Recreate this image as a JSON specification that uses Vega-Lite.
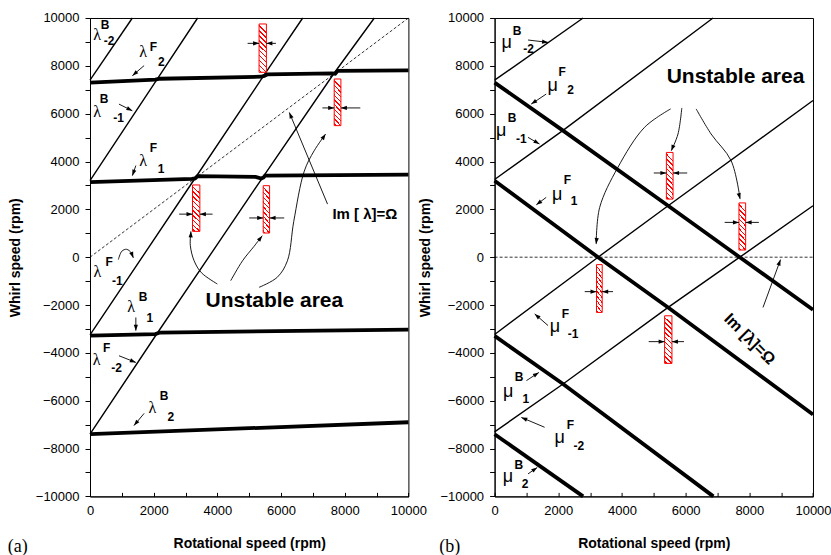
{
"$schema":"https://vega.github.io/schema/vega-lite/v6.json",
"padding":{"left":7,"top":11,"right":5,"bottom":5},
"background":"white",
"bounds":"flush",
"spacing":85.6,
"config":{"view":{"stroke":"black","strokeWidth":1},"axis":{"labelFont":"Liberation Sans","labelFontSize":13,"labelColor":"black","titleFont":"Liberation Sans","titleFontSize":14,"titleFontWeight":"bold","titleColor":"black","domainColor":"black","tickColor":"black","grid":false,"labelOverlap":false,"labelBound":false,"labelFlush":false},"text":{"font":"Liberation Sans"}},
"datasets":{
"lines":[
{"p":"a","id":"a1","k":"mode","o":0,"x":0,"y":7300},{"p":"a","id":"a1","k":"mode","o":1,"x":2050,"y":7420},{"p":"a","id":"a1","k":"mode","o":2,"x":2200,"y":7460},{"p":"a","id":"a1","k":"mode","o":3,"x":5380,"y":7545},{"p":"a","id":"a1","k":"mode","o":4,"x":5470,"y":7580},{"p":"a","id":"a1","k":"mode","o":5,"x":5560,"y":7640},{"p":"a","id":"a1","k":"mode","o":6,"x":7600,"y":7685},{"p":"a","id":"a1","k":"mode","o":7,"x":7700,"y":7670},{"p":"a","id":"a1","k":"mode","o":8,"x":7780,"y":7790},{"p":"a","id":"a1","k":"mode","o":9,"x":10000,"y":7810},
{"p":"a","id":"a2","k":"mode","o":0,"x":0,"y":3140},{"p":"a","id":"a2","k":"mode","o":1,"x":3200,"y":3270},{"p":"a","id":"a2","k":"mode","o":2,"x":3300,"y":3290},{"p":"a","id":"a2","k":"mode","o":3,"x":3380,"y":3390},{"p":"a","id":"a2","k":"mode","o":4,"x":5200,"y":3360},{"p":"a","id":"a2","k":"mode","o":5,"x":5380,"y":3290},{"p":"a","id":"a2","k":"mode","o":6,"x":5450,"y":3330},{"p":"a","id":"a2","k":"mode","o":7,"x":5500,"y":3410},{"p":"a","id":"a2","k":"mode","o":8,"x":10000,"y":3450},
{"p":"a","id":"a3","k":"mode","o":0,"x":0,"y":-3280},{"p":"a","id":"a3","k":"mode","o":1,"x":2050,"y":-3215},{"p":"a","id":"a3","k":"mode","o":2,"x":2200,"y":-3150},{"p":"a","id":"a3","k":"mode","o":3,"x":10000,"y":-3030},
{"p":"a","id":"a4","k":"mode","o":0,"x":0,"y":-7400},{"p":"a","id":"a4","k":"mode","o":1,"x":10000,"y":-6900},
{"p":"a","id":"a5","k":"shifted","o":0,"x":0,"y":7400},{"p":"a","id":"a5","k":"shifted","o":1,"x":1330,"y":10000},
{"p":"a","id":"a6","k":"shifted","o":0,"x":0,"y":3200},{"p":"a","id":"a6","k":"shifted","o":1,"x":2100,"y":7420},{"p":"a","id":"a6","k":"shifted","o":2,"x":3380,"y":10000},
{"p":"a","id":"a7","k":"shifted","o":0,"x":0,"y":-3250},{"p":"a","id":"a7","k":"shifted","o":1,"x":3300,"y":3300},{"p":"a","id":"a7","k":"shifted","o":2,"x":5450,"y":7580},{"p":"a","id":"a7","k":"shifted","o":3,"x":6680,"y":10000},
{"p":"a","id":"a8","k":"shifted","o":0,"x":0,"y":-7400},{"p":"a","id":"a8","k":"shifted","o":1,"x":2100,"y":-3200},{"p":"a","id":"a8","k":"shifted","o":2,"x":5420,"y":3330},{"p":"a","id":"a8","k":"shifted","o":3,"x":7670,"y":7700},{"p":"a","id":"a8","k":"shifted","o":4,"x":8930,"y":10000},
{"p":"a","id":"a9","k":"ref","o":0,"x":0,"y":0},{"p":"a","id":"a9","k":"ref","o":1,"x":10000,"y":10000},
{"p":"b","id":"b1","k":"mode","o":0,"x":0,"y":7300},{"p":"b","id":"b1","k":"mode","o":1,"x":2150,"y":5290},{"p":"b","id":"b1","k":"mode","o":2,"x":5450,"y":2150},{"p":"b","id":"b1","k":"mode","o":3,"x":7700,"y":0},{"p":"b","id":"b1","k":"mode","o":4,"x":10000,"y":-2200},
{"p":"b","id":"b2","k":"mode","o":0,"x":0,"y":3200},{"p":"b","id":"b2","k":"mode","o":1,"x":3250,"y":0},{"p":"b","id":"b2","k":"mode","o":2,"x":5450,"y":-2100},{"p":"b","id":"b2","k":"mode","o":3,"x":10000,"y":-6580},
{"p":"b","id":"b3","k":"mode","o":0,"x":0,"y":-3290},{"p":"b","id":"b3","k":"mode","o":1,"x":2150,"y":-5300},{"p":"b","id":"b3","k":"mode","o":2,"x":6870,"y":-10000},
{"p":"b","id":"b4","k":"mode","o":0,"x":0,"y":-7400},{"p":"b","id":"b4","k":"mode","o":1,"x":2780,"y":-10000},
{"p":"b","id":"b5","k":"shifted","o":0,"x":0,"y":7400},{"p":"b","id":"b5","k":"shifted","o":1,"x":2780,"y":10000},
{"p":"b","id":"b6","k":"shifted","o":0,"x":0,"y":3250},{"p":"b","id":"b6","k":"shifted","o":1,"x":2150,"y":5300},{"p":"b","id":"b6","k":"shifted","o":2,"x":6860,"y":10000},
{"p":"b","id":"b7","k":"shifted","o":0,"x":0,"y":-3230},{"p":"b","id":"b7","k":"shifted","o":1,"x":3250,"y":0},{"p":"b","id":"b7","k":"shifted","o":2,"x":5450,"y":2150},{"p":"b","id":"b7","k":"shifted","o":3,"x":10000,"y":6550},
{"p":"b","id":"b8","k":"shifted","o":0,"x":0,"y":-7300},{"p":"b","id":"b8","k":"shifted","o":1,"x":2150,"y":-5300},{"p":"b","id":"b8","k":"shifted","o":2,"x":5450,"y":-2100},{"p":"b","id":"b8","k":"shifted","o":3,"x":7700,"y":0},{"p":"b","id":"b8","k":"shifted","o":4,"x":10000,"y":2150},
{"p":"b","id":"b9","k":"ref","o":0,"x":0,"y":0},{"p":"b","id":"b9","k":"ref","o":1,"x":10000,"y":0}
],
"rects":[
{"p":"a","x":5310,"x2":5540,"y":7730,"y2":9750},{"p":"a","x":7670,"x2":7880,"y":5500,"y2":7450},{"p":"a","x":3220,"x2":3450,"y":1080,"y2":3020},{"p":"a","x":5440,"x2":5640,"y":1010,"y2":2990},
{"p":"b","x":3200,"x2":3380,"y":-2310,"y2":-310},{"p":"b","x":5395,"x2":5605,"y":2430,"y2":4380},{"p":"b","x":7675,"x2":7885,"y":300,"y2":2270},{"p":"b","x":5340,"x2":5570,"y":-4440,"y2":-2450}
],
"arrows":[
{"p":"a","id":"h1","o":0,"x":4950,"y":8940},{"p":"a","id":"h1","o":1,"x":5310,"y":8940},
{"p":"a","id":"h2","o":0,"x":5840,"y":8940},{"p":"a","id":"h2","o":1,"x":5540,"y":8940},
{"p":"a","id":"h3","o":0,"x":7300,"y":6240},{"p":"a","id":"h3","o":1,"x":7670,"y":6240},
{"p":"a","id":"h4","o":0,"x":8490,"y":6240},{"p":"a","id":"h4","o":1,"x":7880,"y":6240},
{"p":"a","id":"h5","o":0,"x":2800,"y":1800},{"p":"a","id":"h5","o":1,"x":3220,"y":1800},
{"p":"a","id":"h6","o":0,"x":3850,"y":1800},{"p":"a","id":"h6","o":1,"x":3450,"y":1800},
{"p":"a","id":"h7","o":0,"x":5000,"y":1640},{"p":"a","id":"h7","o":1,"x":5440,"y":1640},
{"p":"a","id":"h8","o":0,"x":6100,"y":1640},{"p":"a","id":"h8","o":1,"x":5640,"y":1640},
{"p":"a","id":"l1","o":0,"x":1700,"y":8010},{"p":"a","id":"l1","o":1,"x":1330,"y":7590},
{"p":"a","id":"l2","o":0,"x":910,"y":6400},{"p":"a","id":"l2","o":1,"x":1330,"y":6120},
{"p":"a","id":"l3","o":0,"x":1440,"y":3830},{"p":"a","id":"l3","o":1,"x":1330,"y":3410},
{"p":"a","id":"l4","o":0,"x":1440,"y":-2520},{"p":"a","id":"l4","o":1,"x":1440,"y":-3070},
{"p":"a","id":"l5","o":0,"x":910,"y":-4120},{"p":"a","id":"l5","o":1,"x":1440,"y":-4400},
{"p":"a","id":"l6","o":0,"x":1700,"y":-6530},{"p":"a","id":"l6","o":1,"x":1380,"y":-7040},
{"p":"a","id":"l7","o":0,"x":890,"y":-100},{"p":"a","id":"l7","o":1,"x":1000,"y":250},{"p":"a","id":"l7","o":2,"x":1150,"y":330},{"p":"a","id":"l7","o":3,"x":1300,"y":180},{"p":"a","id":"l7","o":4,"x":1360,"y":-30},
{"p":"a","id":"l8","o":0,"x":7460,"y":2220},{"p":"a","id":"l8","o":1,"x":6260,"y":6050},
{"p":"a","id":"c1","o":0,"x":4000,"y":-1120},{"p":"a","id":"c1","o":1,"x":3500,"y":-650},{"p":"a","id":"c1","o":2,"x":3270,"y":-150},{"p":"a","id":"c1","o":3,"x":3150,"y":500},{"p":"a","id":"c1","o":4,"x":3170,"y":1080},
{"p":"a","id":"c2","o":0,"x":4420,"y":-980},{"p":"a","id":"c2","o":1,"x":4790,"y":-150},{"p":"a","id":"c2","o":2,"x":5150,"y":450},{"p":"a","id":"c2","o":3,"x":5410,"y":900},
{"p":"a","id":"c3","o":0,"x":5310,"y":-1260},{"p":"a","id":"c3","o":1,"x":5880,"y":-840},{"p":"a","id":"c3","o":2,"x":6200,"y":-150},{"p":"a","id":"c3","o":3,"x":6400,"y":1500},{"p":"a","id":"c3","o":4,"x":6730,"y":3600},{"p":"a","id":"c3","o":5,"x":7040,"y":4450},{"p":"a","id":"c3","o":6,"x":7400,"y":5150},
{"p":"b","id":"h9","o":0,"x":2830,"y":-1440},{"p":"b","id":"h9","o":1,"x":3200,"y":-1440},
{"p":"b","id":"h10","o":0,"x":3720,"y":-1440},{"p":"b","id":"h10","o":1,"x":3380,"y":-1440},
{"p":"b","id":"h11","o":0,"x":5000,"y":3520},{"p":"b","id":"h11","o":1,"x":5395,"y":3520},
{"p":"b","id":"h12","o":0,"x":6050,"y":3520},{"p":"b","id":"h12","o":1,"x":5605,"y":3520},
{"p":"b","id":"h13","o":0,"x":7225,"y":1455},{"p":"b","id":"h13","o":1,"x":7675,"y":1455},
{"p":"b","id":"h14","o":0,"x":8300,"y":1455},{"p":"b","id":"h14","o":1,"x":7885,"y":1455},
{"p":"b","id":"h15","o":0,"x":4840,"y":-3530},{"p":"b","id":"h15","o":1,"x":5340,"y":-3530},
{"p":"b","id":"h16","o":0,"x":5950,"y":-3530},{"p":"b","id":"h16","o":1,"x":5570,"y":-3530},
{"p":"b","id":"m1","o":0,"x":1050,"y":9080},{"p":"b","id":"m1","o":1,"x":1680,"y":8980},
{"p":"b","id":"m2","o":0,"x":1620,"y":6820},{"p":"b","id":"m2","o":1,"x":1150,"y":6400},
{"p":"b","id":"m3","o":0,"x":1050,"y":5010},{"p":"b","id":"m3","o":1,"x":1410,"y":4730},
{"p":"b","id":"m4","o":0,"x":1620,"y":2500},{"p":"b","id":"m4","o":1,"x":1310,"y":2190},
{"p":"b","id":"m5","o":0,"x":1680,"y":-2860},{"p":"b","id":"m5","o":1,"x":1260,"y":-2370},
{"p":"b","id":"m6","o":0,"x":1000,"y":-5160},{"p":"b","id":"m6","o":1,"x":1390,"y":-4820},
{"p":"b","id":"m7","o":0,"x":1570,"y":-7110},{"p":"b","id":"m7","o":1,"x":840,"y":-6700},
{"p":"b","id":"m8","o":0,"x":1050,"y":-9060},{"p":"b","id":"m8","o":1,"x":1340,"y":-8790},
{"p":"b","id":"m9","o":0,"x":8430,"y":-2100},{"p":"b","id":"m9","o":1,"x":8980,"y":-100},
{"p":"b","id":"d1","o":0,"x":5530,"y":6200},{"p":"b","id":"d1","o":1,"x":4710,"y":5430},{"p":"b","id":"d1","o":2,"x":3870,"y":3750},{"p":"b","id":"d1","o":3,"x":3300,"y":2080},{"p":"b","id":"d1","o":4,"x":3190,"y":550},
{"p":"b","id":"d2","o":0,"x":5880,"y":6240},{"p":"b","id":"d2","o":1,"x":5760,"y":5150},{"p":"b","id":"d2","o":2,"x":5550,"y":4450},
{"p":"b","id":"d3","o":0,"x":6330,"y":6200},{"p":"b","id":"d3","o":1,"x":6800,"y":5150},{"p":"b","id":"d3","o":2,"x":7430,"y":4030},{"p":"b","id":"d3","o":3,"x":7710,"y":2430}
],
"labels":[
{"p":"a","r":"lam","t":"λ","x":226,"y":9290},{"p":"a","r":"sup","t":"B","x":470,"y":9690},{"p":"a","r":"sub","t":"-2","x":600,"y":9040},
{"p":"a","r":"lam","t":"λ","x":1670,"y":8560},{"p":"a","r":"sup","t":"F","x":1995,"y":8770},{"p":"a","r":"sub","t":"2","x":2240,"y":8140},
{"p":"a","r":"lam","t":"λ","x":226,"y":6090},{"p":"a","r":"sup","t":"B","x":440,"y":6610},{"p":"a","r":"sub","t":"-1","x":900,"y":5810},
{"p":"a","r":"lam","t":"λ","x":1670,"y":4030},{"p":"a","r":"sup","t":"F","x":1995,"y":4560},{"p":"a","r":"sub","t":"1","x":2230,"y":3690},
{"p":"a","r":"lam","t":"λ","x":232,"y":-635},{"p":"a","r":"sup","t":"F","x":598,"y":-180},{"p":"a","r":"sub","t":"-1","x":860,"y":-1016},
{"p":"a","r":"lam","t":"λ","x":1290,"y":-2080},{"p":"a","r":"sup","t":"B","x":1670,"y":-1644},{"p":"a","r":"sub","t":"1","x":1880,"y":-2550},
{"p":"a","r":"lam","t":"λ","x":205,"y":-4290},{"p":"a","r":"sup","t":"F","x":520,"y":-3800},{"p":"a","r":"sub","t":"-2","x":835,"y":-4640},
{"p":"a","r":"lam","t":"λ","x":1960,"y":-6310},{"p":"a","r":"sup","t":"B","x":2325,"y":-5820},{"p":"a","r":"sub","t":"2","x":2535,"y":-6660},
{"p":"a","r":"big","t":"Unstable area","x":5791,"y":-1819},
{"p":"a","r":"im","t":"Im [ λ]=Ω","x":8633,"y":1806},
{"p":"a","r":"tag","t":"(a)","x":-2585,"y":-12130},
{"p":"b","r":"mu","t":"μ","x":377,"y":8946},{"p":"b","r":"sup","t":"B","x":707,"y":9460},{"p":"b","r":"sub","t":"-2","x":1065,"y":8716},
{"p":"b","r":"mu","t":"μ","x":1822,"y":7170},{"p":"b","r":"sup","t":"F","x":2120,"y":7763},{"p":"b","r":"sub","t":"2","x":2384,"y":6995},
{"p":"b","r":"mu","t":"μ","x":210,"y":5290},{"p":"b","r":"sup","t":"B","x":550,"y":5811},{"p":"b","r":"sub","t":"-1","x":840,"y":4954},
{"p":"b","r":"mu","t":"μ","x":1963,"y":2605},{"p":"b","r":"sup","t":"F","x":2290,"y":3211},{"p":"b","r":"sub","t":"1","x":2497,"y":2370},
{"p":"b","r":"mu","t":"μ","x":1897,"y":-2934},{"p":"b","r":"sup","t":"F","x":2227,"y":-2375},{"p":"b","r":"sub","t":"-1","x":2462,"y":-3211},
{"p":"b","r":"mu","t":"μ","x":430,"y":-5652},{"p":"b","r":"sup","t":"B","x":770,"y":-5008},{"p":"b","r":"sub","t":"1","x":980,"y":-5928},
{"p":"b","r":"mu","t":"μ","x":2041,"y":-7567},{"p":"b","r":"sup","t":"F","x":2384,"y":-7032},{"p":"b","r":"sub","t":"-2","x":2645,"y":-7880},
{"p":"b","r":"mu","t":"μ","x":420,"y":-9205},{"p":"b","r":"sup","t":"B","x":760,"y":-8704},{"p":"b","r":"sub","t":"2","x":955,"y":-9482},
{"p":"b","r":"big","t":"Unstable area","x":7566,"y":7517},
{"p":"b","r":"imr","t":"Im [λ]=Ω","x":8010,"y":-3420},
{"p":"b","r":"tag","t":"(b)","x":-1740,"y":-12100}
]
},
"hconcat":[
{
"width":318.4,"height":478.4,
"encoding":{
"x":{"field":"x","type":"quantitative","scale":{"domain":[0,10000],"nice":false,"zero":false},"axis":{"title":"Rotational speed (rpm)","values":[0,1000,2000,3000,4000,5000,6000,7000,8000,9000,10000],"format":"d","labelExpr":"datum.value % 2000 === 0 ? datum.label : ''","tickSize":-4,"labelPadding":12,"titlePadding":19}},
"y":{"field":"y","type":"quantitative","scale":{"domain":[-10000,10000],"nice":false,"zero":false},"axis":{"title":"Whirl speed (rpm)","values":[-10000,-9000,-8000,-7000,-6000,-5000,-4000,-3000,-2000,-1000,0,1000,2000,3000,4000,5000,6000,7000,8000,9000,10000],"format":"d","labelExpr":"datum.value % 2000 === 0 ? datum.label : ''","tickSize":5,"labelPadding":6,"titlePadding":13}}
},
"layer":[
{"data":{"name":"lines"},"transform":[{"filter":"datum.p==='a' && datum.k==='ref'"}],"mark":{"type":"line","stroke":"black","strokeWidth":0.8,"strokeDash":[3,2]},"encoding":{"detail":{"field":"id"},"order":{"field":"o"}}},
{"data":{"name":"lines"},"transform":[{"filter":"datum.p==='a' && datum.k==='shifted'"}],"mark":{"type":"line","stroke":"black","strokeWidth":1.4},"encoding":{"detail":{"field":"id"},"order":{"field":"o"}}},
{"data":{"name":"lines"},"transform":[{"filter":"datum.p==='a' && datum.k==='mode'"}],"mark":{"type":"line","stroke":"black","strokeWidth":3.8},"encoding":{"detail":{"field":"id"},"order":{"field":"o"}}},
{"data":{"name":"rects"},"transform":[{"filter":"datum.p==='a'"}],"mark":{"type":"rect","stroke":"red","strokeWidth":1,"fill":{"gradient":"linear","x1":0.15,"y1":0,"x2":0,"y2":1,"stops":[{"offset":0,"color":"white"},{"offset":0.04,"color":"white"},{"offset":0.04,"color":"red"},{"offset":0.07,"color":"red"},{"offset":0.07,"color":"white"},{"offset":0.14,"color":"white"},{"offset":0.14,"color":"red"},{"offset":0.17,"color":"red"},{"offset":0.17,"color":"white"},{"offset":0.24,"color":"white"},{"offset":0.24,"color":"red"},{"offset":0.27,"color":"red"},{"offset":0.27,"color":"white"},{"offset":0.34,"color":"white"},{"offset":0.34,"color":"red"},{"offset":0.37,"color":"red"},{"offset":0.37,"color":"white"},{"offset":0.44,"color":"white"},{"offset":0.44,"color":"red"},{"offset":0.47,"color":"red"},{"offset":0.47,"color":"white"},{"offset":0.54,"color":"white"},{"offset":0.54,"color":"red"},{"offset":0.57,"color":"red"},{"offset":0.57,"color":"white"},{"offset":0.64,"color":"white"},{"offset":0.64,"color":"red"},{"offset":0.67,"color":"red"},{"offset":0.67,"color":"white"},{"offset":0.74,"color":"white"},{"offset":0.74,"color":"red"},{"offset":0.77,"color":"red"},{"offset":0.77,"color":"white"},{"offset":0.84,"color":"white"},{"offset":0.84,"color":"red"},{"offset":0.87,"color":"red"},{"offset":0.87,"color":"white"},{"offset":0.94,"color":"white"},{"offset":0.94,"color":"red"},{"offset":0.97,"color":"red"},{"offset":0.97,"color":"white"},{"offset":1,"color":"white"}]}},"encoding":{"x2":{"field":"x2"},"y2":{"field":"y2"}}},
{"data":{"name":"arrows"},"transform":[{"filter":"datum.p==='a'"}],"mark":{"type":"line","stroke":"black","strokeWidth":0.9,"interpolate":"catmull-rom"},"encoding":{"detail":{"field":"id"},"order":{"field":"o"}}},
{"data":{"name":"arrows"},"transform":[{"filter":"datum.p==='a'"},{"window":[{"op":"lag","field":"x","as":"px"},{"op":"lag","field":"y","as":"py"}],"groupby":["id"],"sort":[{"field":"o","order":"ascending"}]},{"joinaggregate":[{"op":"max","field":"o","as":"mo"}],"groupby":["id"]},{"filter":"datum.o===datum.mo"},{"calculate":"atan2((datum.x-datum.px)*0.03184,(datum.y-datum.py)*0.02392)*180/PI","as":"ang"}],"mark":{"type":"point","shape":"M0,0L-0.7,2L0.7,2Z","filled":true,"color":"black","size":36,"opacity":1},"encoding":{"angle":{"field":"ang","type":"quantitative","scale":null}}},
{"data":{"name":"labels"},"transform":[{"filter":"datum.p==='a' && datum.r==='lam'"}],"mark":{"type":"text","font":"Liberation Serif","fontSize":16,"align":"center","baseline":"middle","color":"black"},"encoding":{"text":{"field":"t"}}},
{"data":{"name":"labels"},"transform":[{"filter":"datum.p==='a' && (datum.r==='sup' || datum.r==='sub')"}],"mark":{"type":"text","fontSize":12,"fontWeight":"bold","align":"center","baseline":"middle","color":"black"},"encoding":{"text":{"field":"t"}}},
{"data":{"name":"labels"},"transform":[{"filter":"datum.p==='a' && datum.r==='big'"}],"mark":{"type":"text","fontSize":21,"fontWeight":"bold","align":"center","baseline":"middle","color":"black"},"encoding":{"text":{"field":"t"}}},
{"data":{"name":"labels"},"transform":[{"filter":"datum.p==='a' && datum.r==='im'"}],"mark":{"type":"text","fontSize":15,"fontWeight":"bold","align":"center","baseline":"middle","color":"black"},"encoding":{"text":{"field":"t"}}},
{"data":{"name":"labels"},"transform":[{"filter":"datum.p==='a' && datum.r==='tag'"}],"mark":{"type":"text","font":"Liberation Serif","fontSize":18,"align":"left","baseline":"middle","color":"black"},"encoding":{"text":{"field":"t"}}}
]
},
{
"width":318.4,"height":478.4,
"encoding":{
"x":{"field":"x","type":"quantitative","scale":{"domain":[0,10000],"nice":false,"zero":false},"axis":{"title":"Rotational speed (rpm)","values":[0,1000,2000,3000,4000,5000,6000,7000,8000,9000,10000],"format":"d","labelExpr":"datum.value % 2000 === 0 ? datum.label : ''","tickSize":-4,"labelPadding":12,"titlePadding":19}},
"y":{"field":"y","type":"quantitative","scale":{"domain":[-10000,10000],"nice":false,"zero":false},"axis":{"title":"Whirl speed (rpm)","values":[-10000,-9000,-8000,-7000,-6000,-5000,-4000,-3000,-2000,-1000,0,1000,2000,3000,4000,5000,6000,7000,8000,9000,10000],"format":"d","labelExpr":"datum.value % 2000 === 0 ? datum.label : ''","tickSize":5,"labelPadding":6,"titlePadding":7}}
},
"layer":[
{"data":{"name":"lines"},"transform":[{"filter":"datum.p==='b' && datum.k==='ref'"}],"mark":{"type":"line","stroke":"black","strokeWidth":0.8,"strokeDash":[3,2]},"encoding":{"detail":{"field":"id"},"order":{"field":"o"}}},
{"data":{"name":"lines"},"transform":[{"filter":"datum.p==='b' && datum.k==='shifted'"}],"mark":{"type":"line","stroke":"black","strokeWidth":1.4},"encoding":{"detail":{"field":"id"},"order":{"field":"o"}}},
{"data":{"name":"lines"},"transform":[{"filter":"datum.p==='b' && datum.k==='mode'"}],"mark":{"type":"line","stroke":"black","strokeWidth":3.8},"encoding":{"detail":{"field":"id"},"order":{"field":"o"}}},
{"data":{"name":"rects"},"transform":[{"filter":"datum.p==='b'"}],"mark":{"type":"rect","stroke":"red","strokeWidth":1,"fill":{"gradient":"linear","x1":0.15,"y1":0,"x2":0,"y2":1,"stops":[{"offset":0,"color":"white"},{"offset":0.04,"color":"white"},{"offset":0.04,"color":"red"},{"offset":0.07,"color":"red"},{"offset":0.07,"color":"white"},{"offset":0.14,"color":"white"},{"offset":0.14,"color":"red"},{"offset":0.17,"color":"red"},{"offset":0.17,"color":"white"},{"offset":0.24,"color":"white"},{"offset":0.24,"color":"red"},{"offset":0.27,"color":"red"},{"offset":0.27,"color":"white"},{"offset":0.34,"color":"white"},{"offset":0.34,"color":"red"},{"offset":0.37,"color":"red"},{"offset":0.37,"color":"white"},{"offset":0.44,"color":"white"},{"offset":0.44,"color":"red"},{"offset":0.47,"color":"red"},{"offset":0.47,"color":"white"},{"offset":0.54,"color":"white"},{"offset":0.54,"color":"red"},{"offset":0.57,"color":"red"},{"offset":0.57,"color":"white"},{"offset":0.64,"color":"white"},{"offset":0.64,"color":"red"},{"offset":0.67,"color":"red"},{"offset":0.67,"color":"white"},{"offset":0.74,"color":"white"},{"offset":0.74,"color":"red"},{"offset":0.77,"color":"red"},{"offset":0.77,"color":"white"},{"offset":0.84,"color":"white"},{"offset":0.84,"color":"red"},{"offset":0.87,"color":"red"},{"offset":0.87,"color":"white"},{"offset":0.94,"color":"white"},{"offset":0.94,"color":"red"},{"offset":0.97,"color":"red"},{"offset":0.97,"color":"white"},{"offset":1,"color":"white"}]}},"encoding":{"x2":{"field":"x2"},"y2":{"field":"y2"}}},
{"data":{"name":"arrows"},"transform":[{"filter":"datum.p==='b'"}],"mark":{"type":"line","stroke":"black","strokeWidth":0.9,"interpolate":"catmull-rom"},"encoding":{"detail":{"field":"id"},"order":{"field":"o"}}},
{"data":{"name":"arrows"},"transform":[{"filter":"datum.p==='b'"},{"window":[{"op":"lag","field":"x","as":"px"},{"op":"lag","field":"y","as":"py"}],"groupby":["id"],"sort":[{"field":"o","order":"ascending"}]},{"joinaggregate":[{"op":"max","field":"o","as":"mo"}],"groupby":["id"]},{"filter":"datum.o===datum.mo"},{"calculate":"atan2((datum.x-datum.px)*0.03184,(datum.y-datum.py)*0.02392)*180/PI","as":"ang"}],"mark":{"type":"point","shape":"M0,0L-0.7,2L0.7,2Z","filled":true,"color":"black","size":36,"opacity":1},"encoding":{"angle":{"field":"ang","type":"quantitative","scale":null}}},
{"data":{"name":"labels"},"transform":[{"filter":"datum.p==='b' && datum.r==='mu'"}],"mark":{"type":"text","fontSize":18,"align":"center","baseline":"middle","color":"black"},"encoding":{"text":{"field":"t"}}},
{"data":{"name":"labels"},"transform":[{"filter":"datum.p==='b' && (datum.r==='sup' || datum.r==='sub')"}],"mark":{"type":"text","fontSize":12,"fontWeight":"bold","align":"center","baseline":"middle","color":"black"},"encoding":{"text":{"field":"t"}}},
{"data":{"name":"labels"},"transform":[{"filter":"datum.p==='b' && datum.r==='big'"}],"mark":{"type":"text","fontSize":21,"fontWeight":"bold","align":"center","baseline":"middle","color":"black"},"encoding":{"text":{"field":"t"}}},
{"data":{"name":"labels"},"transform":[{"filter":"datum.p==='b' && datum.r==='imr'"}],"mark":{"type":"text","fontSize":16,"fontWeight":"bold","align":"center","baseline":"middle","color":"black","angle":45},"encoding":{"text":{"field":"t"}}},
{"data":{"name":"labels"},"transform":[{"filter":"datum.p==='b' && datum.r==='tag'"}],"mark":{"type":"text","font":"Liberation Serif","fontSize":18,"align":"left","baseline":"middle","color":"black"},"encoding":{"text":{"field":"t"}}}
]
}
]
}
